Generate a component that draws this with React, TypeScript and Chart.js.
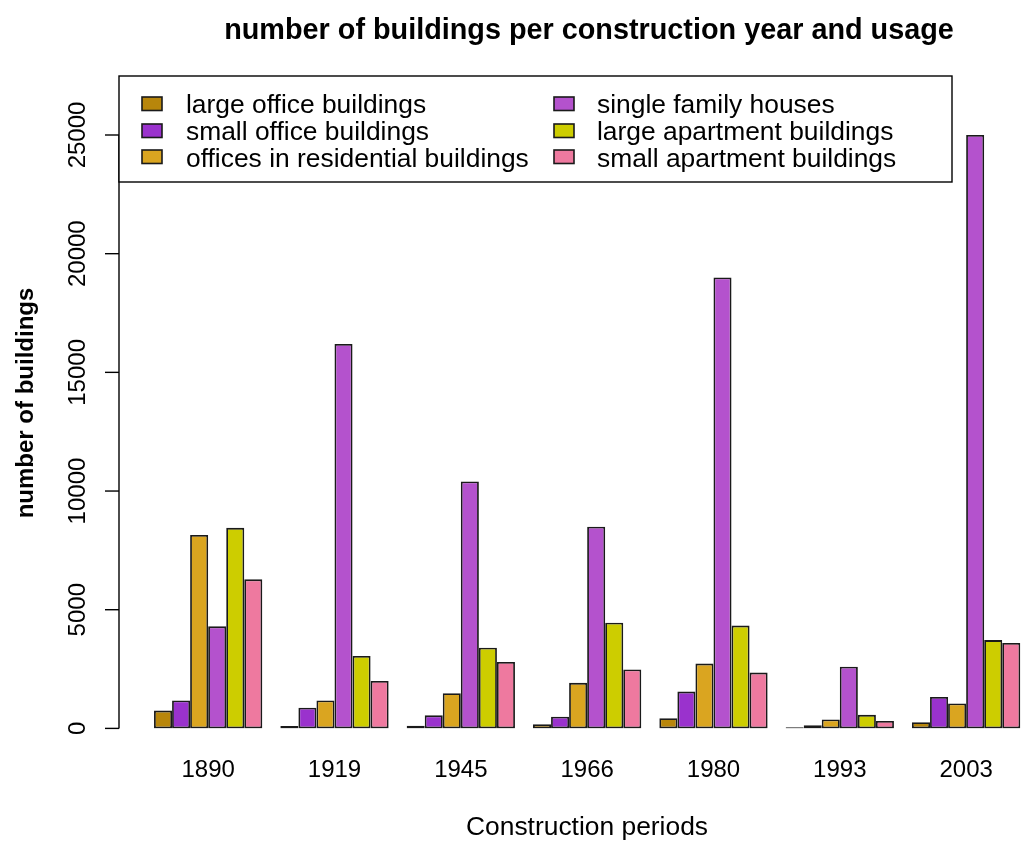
import React, { useEffect, useRef } from 'react';
import { Chart, registerables } from 'chart.js';

Chart.register(...registerables);

const periods = ['1890', '1919', '1945', '1966', '1980', '1993', '2003'];
const seriesNames = [
  'large office buildings',
  'small office buildings',
  'offices in residential buildings',
  'single family houses',
  'large apartment buildings',
  'small apartment buildings',
];
const largeOffice = [750, 100, 110, 180, 430, 50, 260];
const smallOffice = [1180, 870, 550, 490, 1550, 130, 1320];
const officesResidential = [8150, 1180, 1480, 1920, 2730, 380, 1050];
const singleFamily = [4300, 16200, 10400, 8500, 19000, 2600, 25000];
const largeApartment = [8450, 3050, 3400, 4450, 4330, 570, 3720];
const smallApartment = [6280, 2000, 2800, 2480, 2350, 310, 3600];
const seriesValues = [largeOffice, smallOffice, officesResidential, singleFamily, largeApartment, smallApartment];
const seriesColors = ['#B8860B', '#9A32CD', '#DAA520', '#B452CD', '#CDCD00', '#EE799F'];
const yTickValues = [0, 5000, 10000, 15000, 20000, 25000];
const chartTitle = 'number of buildings per construction year and usage';
const xTitle = 'Construction periods';
const yTitle = 'number of buildings';

const FONT = '"Liberation Sans", Arial, sans-serif';
const CANVAS_W = 1040;
const CANVAS_H = 844;

const decorPlugin = {
  id: 'decor',
  afterDraw(chart: any) {
    const ctx = chart.ctx as CanvasRenderingContext2D;
    const yScale = chart.scales.y;
    ctx.save();
    ctx.fillStyle = '#000';
    ctx.strokeStyle = '#000';

    // main title
    ctx.font = `bold 28.8px ${FONT}`;
    ctx.textAlign = 'center';
    ctx.textBaseline = 'alphabetic';
    ctx.fillText(chartTitle, 589, 39);

    // x title
    ctx.font = `26.4px ${FONT}`;
    ctx.fillText(xTitle, 587, 835);

    // y title
    ctx.save();
    ctx.translate(33, 403);
    ctx.rotate(-Math.PI / 2);
    ctx.font = `bold 24px ${FONT}`;
    ctx.fillText(yTitle, 0, 0);
    ctx.restore();

    // y axis (R style)
    const axisX = 119;
    ctx.lineWidth = 1.4;
    const pTop = yScale.getPixelForValue(yTickValues[yTickValues.length - 1]);
    const pBottom = yScale.getPixelForValue(yTickValues[0]);
    ctx.beginPath();
    ctx.moveTo(axisX, pTop);
    ctx.lineTo(axisX, pBottom);
    ctx.stroke();
    ctx.font = `24px ${FONT}`;
    for (const v of yTickValues) {
      const p = yScale.getPixelForValue(v);
      ctx.beginPath();
      ctx.moveTo(axisX - 14, p);
      ctx.lineTo(axisX, p);
      ctx.stroke();
      ctx.save();
      ctx.translate(85, p);
      ctx.rotate(-Math.PI / 2);
      ctx.textAlign = 'center';
      ctx.textBaseline = 'alphabetic';
      ctx.fillText(String(v), 0, 0);
      ctx.restore();
    }

    // legend
    const boxL = 119, boxT = 76, boxR = 952, boxB = 182;
    ctx.fillStyle = '#fff';
    ctx.fillRect(boxL, boxT, boxR - boxL, boxB - boxT);
    ctx.lineWidth = 1.4;
    ctx.strokeRect(boxL, boxT, boxR - boxL, boxB - boxT);
    const colSwatchX = [142, 554];
    const colTextX = [186, 597];
    const rowBase = [113, 140, 167];
    const rowSwatchTop = [97, 124, 150];
    ctx.font = `26.4px ${FONT}`;
    ctx.textAlign = 'left';
    ctx.textBaseline = 'alphabetic';
    seriesNames.forEach((name, i) => {
      const col = Math.floor(i / 3);
      const row = i % 3;
      ctx.fillStyle = seriesColors[i];
      ctx.fillRect(colSwatchX[col], rowSwatchTop[row], 20, 13.5);
      ctx.lineWidth = 1.6;
      ctx.strokeStyle = '#1a1a1a';
      ctx.strokeRect(colSwatchX[col], rowSwatchTop[row], 20, 13.5);
      ctx.fillStyle = '#000';
      ctx.fillText(name, colTextX[col], rowBase[row]);
    });
    ctx.restore();
  },
};

export default function App() {
  const canvasRef = useRef<HTMLCanvasElement | null>(null);

  useEffect(() => {
    const canvas = canvasRef.current;
    if (!canvas) return;
    const chart = new Chart(canvas, {
      type: 'bar',
      data: {
        labels: periods,
        datasets: seriesValues.map((vals, i) => ({
          label: seriesNames[i],
          data: vals,
          backgroundColor: seriesColors[i],
          borderColor: '#1a1a1a',
          borderWidth: 1.8,
          borderSkipped: false,
          barPercentage: 1,
          categoryPercentage: 6 / 7,
        })),
      },
      options: {
        animation: false,
        responsive: false,
        devicePixelRatio: 1,
        layout: {
          padding: { left: 145, right: CANVAS_W - 1029.3, top: 135, bottom: 31.6 },
        },
        plugins: {
          legend: { display: false },
          tooltip: { enabled: false },
          title: { display: false },
        },
        scales: {
          x: {
            type: 'category',
            offset: true,
            grid: { display: false, drawTicks: false },
            border: { display: false },
            ticks: {
              color: '#000',
              padding: 27.6,
              maxRotation: 0,
              minRotation: 0,
              font: { family: FONT, size: 24 },
            },
          },
          y: {
            type: 'linear',
            display: false,
            min: 0,
            max: 25000,
          },
        },
      },
      plugins: [decorPlugin],
    });
    return () => chart.destroy();
  }, []);

  return (
    <div
      style={{
        position: 'fixed',
        left: 0,
        top: 0,
        width: 1023,
        height: 844,
        overflow: 'hidden',
        background: '#fff',
      }}
    >
      <canvas
        ref={canvasRef}
        width={CANVAS_W}
        height={CANVAS_H}
        style={{ display: 'block', width: CANVAS_W, height: CANVAS_H }}
      />
    </div>
  );
}
